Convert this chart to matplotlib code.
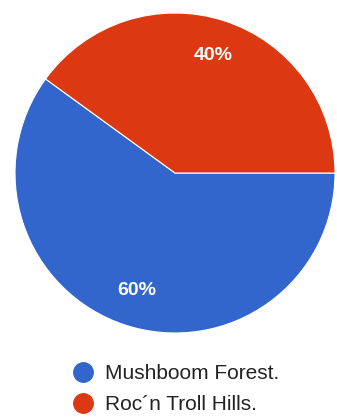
import matplotlib
matplotlib.use("Agg")

import matplotlib.pyplot as plt
from matplotlib.lines import Line2D

# data
labels = ["Mushboom Forest.", "Roc\u00b4n Troll Hills."]
values = [60, 40]
colors = ["#3366CC", "#DC3912"]

W, H = 337, 418
fig = plt.figure(figsize=(W / 100, H / 100), dpi=100)
fig.patch.set_facecolor("white")

# pie area: centre ~(175,173), radius ~160 px
ax = fig.add_axes([15 / W, (H - 333) / H, 320 / W, 320 / H])
wedges, texts, autotexts = ax.pie(
    values, colors=colors, startangle=144, counterclock=True,
    autopct="%d%%", pctdistance=0.77,
    wedgeprops=dict(edgecolor="white", linewidth=0.8),
    textprops=dict(color="white", fontsize=14, fontweight="bold",
                   family=["Liberation Sans", "DejaVu Sans"]),
)
ax.set_aspect("equal")
ax.set_xlim(-1, 1)
ax.set_ylim(-1, 1)
ax.axis("off")

handles = [Line2D([0], [0], marker="o", color="w", markerfacecolor=c,
                  markeredgecolor=c, markersize=14, label=l)
           for c, l in zip(colors, labels)]
fig.legend(handles=handles, loc="upper left", bbox_to_anchor=(57 / W, 1 - 354 / H),
           frameon=False, handletextpad=0.3, labelspacing=0.55, handlelength=1.5,
           borderpad=0, prop=dict(family=["Liberation Sans", "DejaVu Sans"], size=15),
           labelcolor="#222222")

fig.savefig("out.png", dpi=100)
